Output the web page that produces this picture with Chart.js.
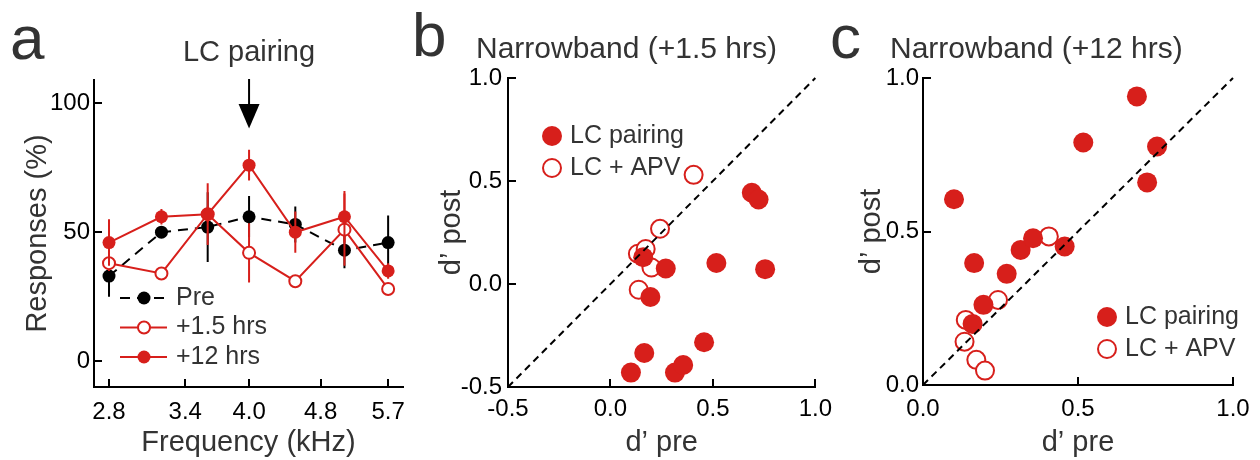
<!DOCTYPE html>
<html>
<head>
<meta charset="utf-8">
<script src="https://cdn.jsdelivr.net/npm/chart.js@4.4.1/dist/chart.umd.min.js"></script>
<style>
  html, body { margin: 0; padding: 0; background: #fff; }
  #wrap { position: relative; width: 1260px; height: 460px; }
  #wrap canvas { position: absolute; top: 0; }
</style>
</head>
<body>
<div id="wrap">
  <canvas id="tuningChart" width="420" height="460" style="left:0"></canvas>
  <canvas id="shortChart" width="440" height="460" style="left:400px"></canvas>
  <canvas id="longChart" width="440" height="460" style="left:820px"></canvas>
</div>
<script>
// frequency tuning, % responses (panel a)
var freqs = [2.8, 3.2, 3.6, 4.0, 4.5, 5.1, 5.7];
var freqTicks = [2.8, 3.4, 4.0, 4.8, 5.7];
var respTicks = [0, 50, 100];
var prePct = [33, 50, 52, 56, 53, 43, 46];
var preErr = [8, 2, 13.5, 8, 7, 7, 10.5];
var hrs15Pct = [38, 34, 57, 42, 31, 51, 28];
var hrs15Err = [3, 2, 3, 11.5, 2, 14, 2];
var hrs12Pct = [46, 56, 57, 76, 50, 56, 35];
var hrs12Err = [9, 3, 12, 6, 8, 10, 3];
var pairedFreq = 4.0;

// d' before vs after (panels b and c share the pre values)
var pairingPre = [0.10, 0.16, 0.165, 0.195, 0.27, 0.315, 0.355, 0.457, 0.517, 0.69, 0.723, 0.755];
var pairingPost15 = [-0.43, 0.13, -0.335, -0.063, 0.075, -0.43, -0.393, -0.283, 0.102, 0.443, 0.41, 0.072];
var pairingPost12 = [0.605, 0.199, 0.397, 0.261, 0.362, 0.44, 0.478, 0.451, 0.79, 0.94, 0.66, 0.777];
var apvPre = [0.134, 0.138, 0.172, 0.20, 0.242, 0.406];
var apvPost15 = [0.147, -0.028, 0.17, 0.08, 0.268, 0.53];
var apvPost12 = [0.141, 0.212, 0.082, 0.047, 0.277, 0.484];
var dTicksShort = [-0.5, 0, 0.5, 1.0];
var dTicksLong = [0, 0.5, 1.0];

var RED = '#d71f1b';
var TEXT = '#333';
var FONT = '"Liberation Sans", Arial, Helvetica, sans-serif';

Chart.defaults.font.family = FONT;
Chart.defaults.font.size = 24;
Chart.defaults.color = '#000';
Chart.defaults.animation = false;

function pairs(xs, ys) {
    return xs.map(function(x, i) { return { x: x, y: ys[i] }; });
}

// short tick marks pointing into the plot
var inwardTicks = {
    id: 'inwardTicks',
    beforeDatasetsDraw: function(chart) {
        var ctx = chart.ctx, area = chart.chartArea, len = 8;
        var xs = chart.scales.x, ys = chart.scales.y;
        ctx.save();
        ctx.strokeStyle = '#000';
        ctx.lineWidth = 2;
        ctx.beginPath();
        xs.ticks.forEach(function(t) {
            var px = Math.round(xs.getPixelForValue(t.value));
            ctx.moveTo(px, area.bottom);
            ctx.lineTo(px, area.bottom - len);
        });
        ys.ticks.forEach(function(t) {
            var py = Math.round(ys.getPixelForValue(t.value));
            ctx.moveTo(area.left, py);
            ctx.lineTo(area.left + len, py);
        });
        ctx.stroke();
        ctx.restore();
    }
};

// vertical error bars under each series
var errorBars = {
    id: 'errorBars',
    beforeDatasetDraw: function(chart, args) {
        var ds = chart.data.datasets[args.index];
        if (!ds.errors) return;
        var ctx = chart.ctx, ys = chart.scales.y;
        ctx.save();
        ctx.strokeStyle = ds.borderColor;
        ctx.lineWidth = 2;
        ctx.beginPath();
        args.meta.data.forEach(function(pt, i) {
            var v = ds.data[i].y, e = ds.errors[i];
            ctx.moveTo(pt.x, ys.getPixelForValue(v - e));
            ctx.lineTo(pt.x, ys.getPixelForValue(v + e));
        });
        ctx.stroke();
        ctx.restore();
    }
};

// legend drawn inside the plot area
var insetLegend = {
    id: 'insetLegend',
    afterDraw: function(chart, args, opts) {
        if (!opts.rows) return;
        var ctx = chart.ctx;
        ctx.save();
        ctx.font = opts.fontSize + 'px ' + FONT;
        ctx.textBaseline = 'middle';
        ctx.textAlign = 'left';
        opts.rows.forEach(function(idx, i) {
            var ds = chart.data.datasets[idx];
            var y = opts.y + i * opts.rowGap;
            if (opts.lineX0 !== undefined) {
                ctx.beginPath();
                ctx.setLineDash(ds.borderDash || []);
                ctx.strokeStyle = ds.borderColor;
                ctx.lineWidth = 2;
                ctx.moveTo(opts.lineX0, y);
                ctx.lineTo(opts.lineX1, y);
                ctx.stroke();
                ctx.setLineDash([]);
            }
            ctx.beginPath();
            ctx.arc(opts.markX, y, ds.pointRadius, 0, 2 * Math.PI);
            ctx.fillStyle = ds.pointBackgroundColor;
            ctx.fill();
            if (ds.pointBorderWidth) {
                ctx.lineWidth = ds.pointBorderWidth;
                ctx.strokeStyle = ds.pointBorderColor;
                ctx.stroke();
            }
            ctx.fillStyle = TEXT;
            ctx.fillText(ds.label, opts.textX, y);
        });
        ctx.restore();
    }
};

// panel letter and heading
var panelText = {
    id: 'panelText',
    afterDraw: function(chart, args, opts) {
        var ctx = chart.ctx;
        ctx.save();
        ctx.fillStyle = TEXT;
        ctx.textBaseline = 'alphabetic';
        ctx.font = '62px ' + FONT;
        ctx.textAlign = 'left';
        ctx.fillText(opts.letter, opts.letterX, opts.letterY);
        ctx.font = opts.titleSize + 'px ' + FONT;
        ctx.textAlign = opts.titleAlign;
        ctx.fillText(opts.title, opts.titleX, opts.titleY);
        ctx.restore();
    }
};

// arrow marking the paired tone
var pairArrow = {
    id: 'pairArrow',
    afterDraw: function(chart, args, opts) {
        if (opts.at === undefined) return;
        var ctx = chart.ctx, top = chart.chartArea.top;
        var px = chart.scales.x.getPixelForValue(opts.at);
        ctx.save();
        ctx.strokeStyle = '#000';
        ctx.fillStyle = '#000';
        ctx.lineWidth = 2;
        ctx.beginPath();
        ctx.moveTo(px, top - 1);
        ctx.lineTo(px, top + 26);
        ctx.stroke();
        ctx.beginPath();
        ctx.moveTo(px - 10.5, top + 24);
        ctx.lineTo(px + 10.5, top + 24);
        ctx.lineTo(px, top + 48.5);
        ctx.closePath();
        ctx.fill();
        ctx.restore();
    }
};

function axis(opts) {
    return {
        type: opts.type || 'linear',
        min: opts.min,
        max: opts.max,
        afterBuildTicks: function(s) { s.ticks = opts.ticks.map(function(v) { return { value: v }; }); },
        afterFit: function(s) { if (opts.width) s.width = opts.width; if (opts.height) s.height = opts.height; },
        grid: { display: false, drawTicks: false, tickLength: 0 },
        border: { display: true, color: '#000', width: 2 },
        ticks: {
            autoSkip: false,
            maxRotation: 0,
            padding: opts.pad,
            color: '#000',
            font: { size: 24 },
            callback: opts.fmt
        },
        title: {
            display: true,
            text: opts.title,
            color: TEXT,
            font: { size: 29 },
            padding: opts.titlePad
        }
    };
}

var fmt1 = function(v) { return Number(v).toFixed(1); };
var fmt0 = function(v) { return String(v); };

new Chart(document.getElementById('tuningChart'), {
    type: 'scatter',
    data: {
        datasets: [{
            label: '+12 hrs',
            data: pairs(freqs, hrs12Pct),
            errors: hrs12Err,
            showLine: true,
            borderColor: RED,
            borderWidth: 2,
            pointRadius: 6.5,
            pointBackgroundColor: RED,
            pointBorderColor: RED,
            pointBorderWidth: 0
        }, {
            label: '+1.5 hrs',
            data: pairs(freqs, hrs15Pct),
            errors: hrs15Err,
            showLine: true,
            borderColor: RED,
            borderWidth: 2,
            pointRadius: 6,
            pointBackgroundColor: '#fff',
            pointBorderColor: RED,
            pointBorderWidth: 2
        }, {
            label: 'Pre',
            data: pairs(freqs, prePct),
            errors: preErr,
            showLine: true,
            borderColor: '#000',
            borderWidth: 2,
            borderDash: [10, 7],
            pointRadius: 6.5,
            pointBackgroundColor: '#000',
            pointBorderColor: '#000',
            pointBorderWidth: 0
        }]
    },
    options: {
        responsive: false,
        events: [],
        clip: false,
        layout: { padding: { left: 0, top: 80, right: 17, bottom: 0 } },
        scales: {
            x: axis({ type: 'logarithmic', min: 2.695, max: 5.92, ticks: freqTicks, fmt: fmt1, pad: 11,
                      height: 73, title: 'Frequency (kHz)', titlePad: { top: 0, bottom: 0 } }),
            y: axis({ min: -10, max: 109, ticks: respTicks, fmt: fmt0, pad: 4,
                      width: 94, title: 'Responses (%)', titlePad: { top: 21, bottom: 0 } })
        },
        plugins: {
            legend: { display: false },
            tooltip: { enabled: false },
            insetLegend: { rows: [2, 1, 0], y: 298, rowGap: 29.5, markX: 144, lineX0: 120, lineX1: 167, textX: 176, fontSize: 25 },
            panelText: { letter: 'a', letterX: 10, letterY: 59, title: 'LC pairing', titleSize: 29, titleAlign: 'center', titleX: 249, titleY: 61 },
            pairArrow: { at: pairedFreq }
        }
    },
    plugins: [inwardTicks, errorBars, insetLegend, panelText, pairArrow]
});

function dprimeChart(id, pairingPost, apvPost, range, ticks, geom, text) {
    return new Chart(document.getElementById(id), {
        type: 'scatter',
        data: {
            datasets: [{
                data: pairs(range, range),
                showLine: true,
                borderColor: '#000',
                borderWidth: 2,
                borderDash: [7, 5],
                pointRadius: 0
            }, {
                label: 'LC pairing',
                data: pairs(pairingPre, pairingPost),
                pointRadius: 10,
                pointBackgroundColor: RED,
                pointBorderColor: RED,
                pointBorderWidth: 0
            }, {
                label: 'LC + APV',
                data: pairs(apvPre, apvPost),
                pointRadius: 9,
                pointBackgroundColor: '#fff',
                pointBorderColor: RED,
                pointBorderWidth: 2
            }]
        },
        options: {
            responsive: false,
            events: [],
            clip: false,
            layout: { padding: { left: 0, top: 78, right: geom.right, bottom: 0 } },
            scales: {
                x: axis({ min: range[0], max: range[1], ticks: ticks, fmt: fmt1, pad: geom.xPad,
                          height: geom.xHeight, title: 'd\u2019 pre', titlePad: { top: 0, bottom: 0 } }),
                y: axis({ min: range[0], max: range[1], ticks: ticks, fmt: fmt1, pad: geom.yPad,
                          width: geom.yWidth, title: 'd\u2019 post', titlePad: { top: 35, bottom: 0 } })
            },
            plugins: {
                legend: { display: false },
                tooltip: { enabled: false },
                insetLegend: { rows: [1, 2], y: geom.legendY, rowGap: 32, markX: geom.legendX, textX: geom.legendX + 18, fontSize: 25 },
                panelText: text
            }
        },
        plugins: [inwardTicks, insetLegend, panelText]
    });
}

dprimeChart('shortChart', pairingPost15, apvPost15, [-0.5, 1.0], dTicksShort,
    { right: 23, xHeight: 73, yWidth: 108, xPad: 8, yPad: 6, legendX: 152, legendY: 136 },
    { letter: 'b', letterX: 12, letterY: 56, title: 'Narrowband (+1.5 hrs)', titleSize: 30, titleAlign: 'left', titleX: 76, titleY: 58 });

dprimeChart('longChart', pairingPost12, apvPost12, [0, 1.0], dTicksLong,
    { right: 27, xHeight: 75, yWidth: 103, xPad: 10, yPad: 4, legendX: 287, legendY: 317 },
    { letter: 'c', letterX: 10, letterY: 58, title: 'Narrowband (+12 hrs)', titleSize: 30, titleAlign: 'left', titleX: 70, titleY: 58 });
</script>
</body>
</html>
